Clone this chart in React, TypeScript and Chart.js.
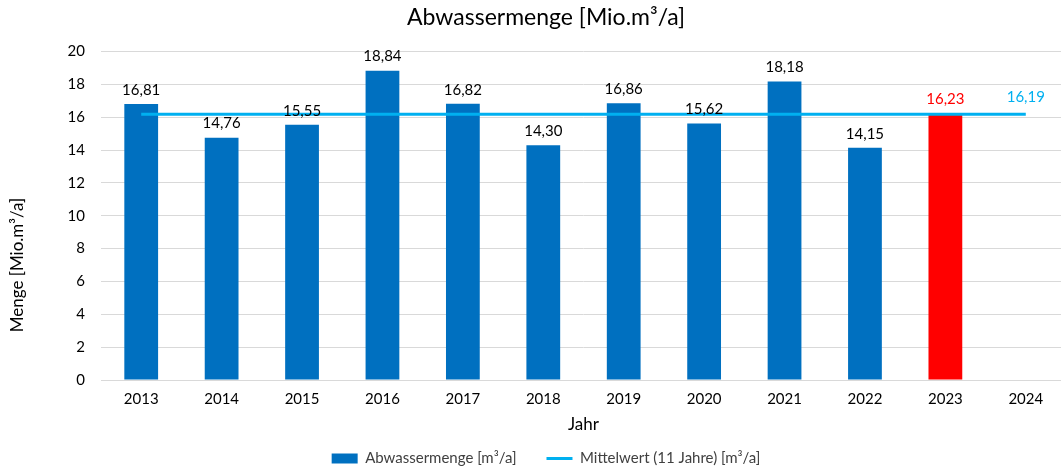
import React, { useEffect, useRef } from "react";
import { Chart, registerables } from "chart.js";

Chart.register(...registerables);

const years = ["2013", "2014", "2015", "2016", "2017", "2018", "2019", "2020", "2021", "2022", "2023", "2024"];
const volumes: (number | null)[] = [16.81, 14.76, 15.55, 18.84, 16.82, 14.3, 16.86, 15.62, 18.18, 14.15, 16.23, null];
const meanValue = 16.19;
const meanLine = years.map(() => meanValue);
const yTicks = [0, 2, 4, 6, 8, 10, 12, 14, 16, 18, 20];
const yTitle = "Menge [Mio.m³/a]";

const BLUE = "#0070C0";
const RED = "#FF0000";
const CYAN = "#00B0F0";
const FONT = "Lato, 'Open Sans', sans-serif";
const fmt = (v: number) => v.toFixed(2).replace(".", ",");

const labelPlugin = {
  id: "valueLabels",
  afterDatasetsDraw(chart: any) {
    const ctx = chart.ctx;
    ctx.save();
    ctx.font = `15px ${FONT}`;
    ctx.textAlign = "center";
    ctx.textBaseline = "middle";
    const barMeta = chart.getDatasetMeta(0);
    barMeta.data.forEach((el: any, i: number) => {
      const v = volumes[i];
      if (v == null) return;
      ctx.fillStyle = i === 10 ? RED : "#000000";
      ctx.fillText(fmt(v), el.x, el.y - 14);
    });
    const lineMeta = chart.getDatasetMeta(1);
    const last = lineMeta.data[lineMeta.data.length - 1];
    if (last) {
      ctx.fillStyle = CYAN;
      ctx.fillText(fmt(meanValue), last.x, last.y - 17);
    }
    ctx.restore();
  },
};

const yTitlePlugin = {
  id: "yTitle",
  afterDraw(chart: any) {
    const ctx = chart.ctx;
    const area = chart.chartArea;
    ctx.save();
    ctx.font = `17px ${FONT}`;
    ctx.fillStyle = "#000";
    ctx.textAlign = "center";
    ctx.textBaseline = "middle";
    ctx.translate(18, area.top + (area.bottom - area.top) * 0.65);
    ctx.rotate(-Math.PI / 2);
    ctx.fillText(yTitle, 0, 0);
    ctx.restore();
  },
};

export default function App() {
  const ref = useRef<HTMLCanvasElement>(null);
  useEffect(() => {
    if (!ref.current) return;
    const chart = new Chart(ref.current, {
      type: "bar",
      data: {
        labels: years,
        datasets: [
          {
            type: "bar",
            label: "Abwassermenge [m³/a]",
            data: volumes,
            backgroundColor: years.map((_, i) => (i === 10 ? RED : BLUE)),
            borderWidth: 0,
            categoryPercentage: 1,
            barPercentage: 0.42,
            order: 2,
          },
          {
            type: "line",
            label: "Mittelwert (11 Jahre) [m³/a]",
            data: meanLine,
            borderColor: CYAN,
            backgroundColor: CYAN,
            borderWidth: 3,
            pointRadius: 0,
            order: 1,
          },
        ],
      },
      options: {
        responsive: false,
        animation: false,
        layout: { padding: { left: 0, right: 0, top: 0, bottom: 0 } },
        plugins: {
          title: {
            display: true,
            text: "Abwassermenge [Mio.m³/a]",
            color: "#000",
            font: { family: FONT, size: 23, weight: "normal" },
            padding: { top: 4, bottom: 20 },
          },
          legend: {
            position: "bottom",
            maxHeight: 49,
            labels: {
              color: "#404040",
              font: { family: FONT, size: 15 },
              usePointStyle: true,
              pointStyleWidth: 26,
              boxHeight: 10,
              padding: 30,
              generateLabels: () => [
                {
                  text: "Abwassermenge [m³/a]",
                  fillStyle: BLUE,
                  strokeStyle: BLUE,
                  lineWidth: 0,
                  pointStyle: "rect",
                  datasetIndex: 0,
                  fontColor: "#404040",
                },
                {
                  text: "Mittelwert (11 Jahre) [m³/a]",
                  fillStyle: CYAN,
                  strokeStyle: CYAN,
                  lineWidth: 3,
                  pointStyle: "line",
                  datasetIndex: 1,
                  fontColor: "#404040",
                },
              ],
            },
          },
          tooltip: { enabled: false },
        },
        scales: {
          x: {
            afterFit: (scale: any) => {
              scale.height = 41;
            },
            grid: { display: false, drawTicks: false },
            border: { display: true, color: "#D9D9D9" },
            ticks: { color: "#000", font: { family: FONT, size: 15 }, padding: 10 },
            title: {
              display: true,
              text: "Jahr",
              color: "#000",
              font: { family: FONT, size: 17 },
              padding: { top: 0, bottom: -14 },
            },
          },
          y: {
            min: 0,
            max: 20,
            afterBuildTicks: (scale: any) => {
              scale.ticks = yTicks.map((v) => ({ value: v }));
            },
            afterFit: (scale: any) => {
              scale.width = 101;
            },
            grid: { color: "#D9D9D9", drawTicks: false },
            border: { display: false },
            ticks: { color: "#000", font: { family: FONT, size: 15 }, padding: 16 },
          },
          yRight: {
            type: "linear",
            position: "right",
            display: true,
            afterFit: (scale: any) => {
              scale.width = 26;
            },
            grid: { display: false, drawTicks: false },
            border: { display: false },
            ticks: { display: false },
          },
        },
      },
      plugins: [labelPlugin, yTitlePlugin],
    });
    return () => chart.destroy();
  }, []);
  return (
    <div style={{ position: "absolute", left: 0, top: 0, width: 1061, height: 470, overflow: "hidden", background: "#fff" }}>
      <canvas ref={ref} width={1092} height={470} />
    </div>
  );
}
